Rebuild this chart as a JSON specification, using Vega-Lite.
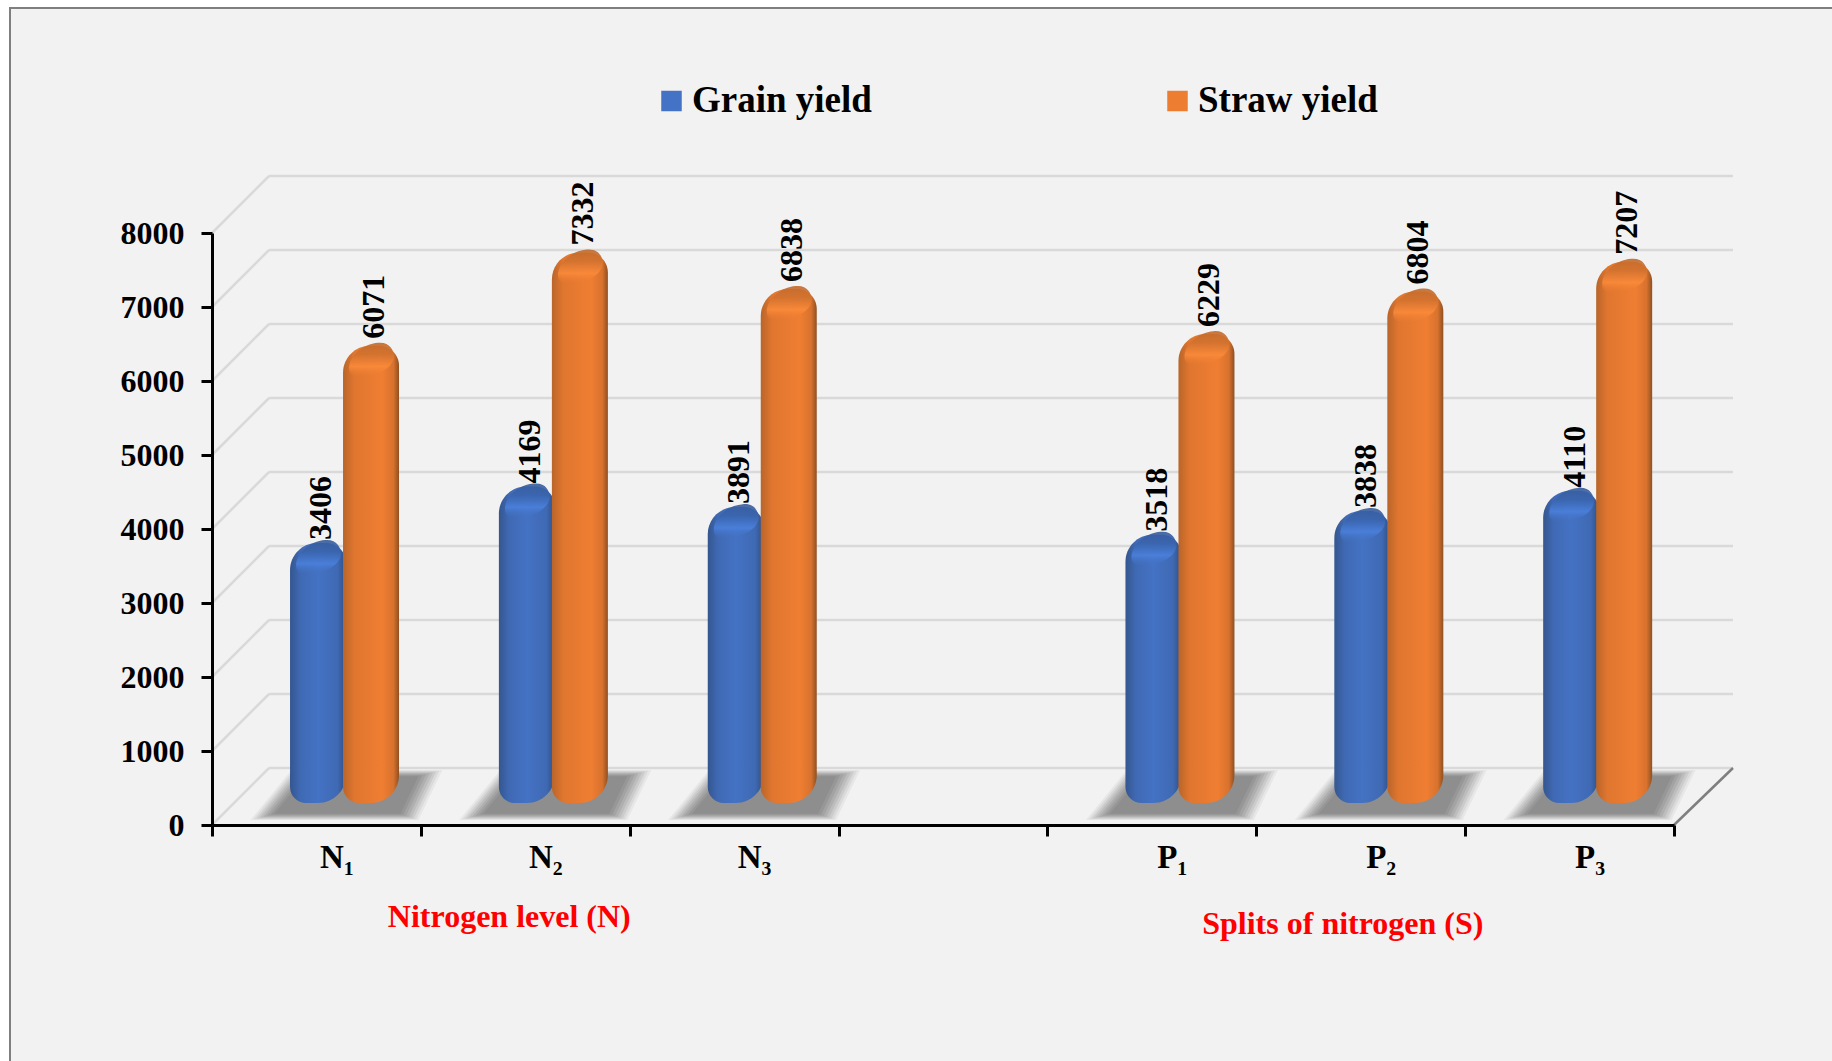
{"$schema":"https://vega.github.io/schema/vega-lite/v6.json","width":1462,"height":592,"autosize":{"type":"none"},"padding":{"left":212,"top":233,"right":158,"bottom":236},"background":"#ffffff","config":{"view":{"stroke":null},"text":{"font":"Liberation Serif","fontWeight":"bold"}},
"datasets":{"yields":[
{"category":"N₁","series":"Grain yield","value":3406},{"category":"N₁","series":"Straw yield","value":6071},
{"category":"N₂","series":"Grain yield","value":4169},{"category":"N₂","series":"Straw yield","value":7332},
{"category":"N₃","series":"Grain yield","value":3891},{"category":"N₃","series":"Straw yield","value":6838},
{"category":"P₁","series":"Grain yield","value":3518},{"category":"P₁","series":"Straw yield","value":6229},
{"category":"P₂","series":"Grain yield","value":3838},{"category":"P₂","series":"Straw yield","value":6804},
{"category":"P₃","series":"Grain yield","value":4110},{"category":"P₃","series":"Straw yield","value":7207}],
"ticks":[{"tick":0},{"tick":1000},{"tick":2000},{"tick":3000},{"tick":4000},{"tick":5000},{"tick":6000},{"tick":7000},{"tick":8000}],
"cats":[{"category":"N₁"},{"category":"N₂"},{"category":"N₃"},{"category":"P₁"},{"category":"P₂"},{"category":"P₃"}]},
"layer":[
{"data":{"values":[{"panel":"frame"}]},"mark":{"type":"bar","width":1866,"fill":"#f2f2f2","stroke":"#7f7f7f","strokeWidth":2},"encoding":{
"x":{"datum":" ","type":"nominal","title":null,"scale":{"type":"band","domain":["N₁","N₂","N₃"," ","P₁","P₂","P₃"],"paddingInner":0,"paddingOuter":0},"axis":{"title":null,"zindex":1,"tickBand":"extent","domainColor":"#000000","domainWidth":3,"tickColor":"#000000","tickWidth":3,"tickSize":11,"labelAngle":0,"labelFont":"Liberation Serif","labelFontWeight":"bold","labelFontSize":33,"labelColor":"#000000","labelOffset":20,"labelPadding":5,"grid":false}},
"y":{"datum":11040,"type":"quantitative","scale":{"domain":[0,8000],"nice":false,"zero":true},"axis":{"title":"kg/ha","zindex":1,"values":[0,1000,2000,3000,4000,5000,6000,7000,8000],"format":"d","grid":false,"domainColor":"#000000","domainWidth":3,"tickColor":"#000000","tickWidth":3,"tickSize":11,"labelFont":"Liberation Serif","labelFontWeight":"bold","labelFontSize":32,"labelColor":"#000000","labelPadding":17,"titleFont":"Liberation Serif","titleFontWeight":"bold","titleFontSize":36,"titleColor":"#ff0000","titleX":-140,"titleY":259,"titleAngle":270}},
"y2":{"datum":-4000}}},
{"data":{"name":"ticks"},"mark":{"type":"rule","color":"#d9d9d9","strokeWidth":2.5,"xOffset":-47.4,"x2Offset":163.4,"yOffset":-57,"y2Offset":-57},"encoding":{"x":{"datum":"N₁","type":"nominal","title":null},"x2":{"datum":"P₃"},"y":{"field":"tick","type":"quantitative","title":null},"y2":{"field":"tick"}}},
{"data":{"name":"ticks"},"mark":{"type":"rule","color":"#d9d9d9","strokeWidth":2.5,"xOffset":-104.4,"x2Offset":-47.4,"y2Offset":-57},"encoding":{"x":{"datum":"N₁","type":"nominal","title":null},"x2":{"datum":"N₁"},"y":{"field":"tick","type":"quantitative","title":null},"y2":{"field":"tick"}}},
{"data":{"values":[{"edge":"floor"}]},"mark":{"type":"rule","color":"#7f7f7f","strokeWidth":2.5,"xOffset":104.4,"x2Offset":163.4,"y2Offset":-57},"encoding":{"x":{"datum":"P₃","type":"nominal","title":null},"x2":{"datum":"P₃"},"y":{"datum":0,"type":"quantitative","title":null},"y2":{"datum":0}}},
{"data":{"name":"cats"},"layer":[
{"mark":{"type":"point","filled":true,"shape":"M -0.96 0.25 L -0.55 -0.25 L 0.96 -0.25 L 0.72 0.25 Z","size":40000,"fill":"#8c8c8c","stroke":null,"opacity":0.1,"xOffset":30,"yOffset":-30}},
{"mark":{"type":"point","filled":true,"shape":"M -0.96 0.25 L -0.55 -0.25 L 0.96 -0.25 L 0.72 0.25 Z","size":37500,"fill":"#8c8c8c","stroke":null,"opacity":0.14,"xOffset":30,"yOffset":-30}},
{"mark":{"type":"point","filled":true,"shape":"M -0.96 0.25 L -0.55 -0.25 L 0.96 -0.25 L 0.72 0.25 Z","size":35000,"fill":"#8c8c8c","stroke":null,"opacity":0.18,"xOffset":30,"yOffset":-30}},
{"mark":{"type":"point","filled":true,"shape":"M -0.96 0.25 L -0.55 -0.25 L 0.96 -0.25 L 0.72 0.25 Z","size":32500,"fill":"#8c8c8c","stroke":null,"opacity":0.22,"xOffset":30,"yOffset":-30}},
{"mark":{"type":"point","filled":true,"shape":"M -0.96 0.25 L -0.55 -0.25 L 0.96 -0.25 L 0.72 0.25 Z","size":30000,"fill":"#8c8c8c","stroke":null,"opacity":0.28,"xOffset":30,"yOffset":-30}},
{"mark":{"type":"point","filled":true,"shape":"M -0.96 0.25 L -0.55 -0.25 L 0.96 -0.25 L 0.72 0.25 Z","size":27500,"fill":"#8c8c8c","stroke":null,"opacity":0.35,"xOffset":30,"yOffset":-30}},
{"mark":{"type":"point","filled":true,"shape":"M -0.96 0.25 L -0.55 -0.25 L 0.96 -0.25 L 0.72 0.25 Z","size":25000,"fill":"#8c8c8c","stroke":null,"opacity":0.5,"xOffset":30,"yOffset":-30}},
{"mark":{"type":"point","filled":true,"shape":"M -0.96 0.25 L -0.55 -0.25 L 0.96 -0.25 L 0.72 0.25 Z","size":22500,"fill":"#8c8c8c","stroke":null,"opacity":0.8,"xOffset":30,"yOffset":-30}}
],"encoding":{"x":{"field":"category","type":"nominal","title":null},"y":{"datum":0,"type":"quantitative","title":null}}},
{"data":{"name":"yields"},"transform":[{"filter":"datum.series === 'Grain yield'"}],"mark":{"type":"bar","width":56,"xOffset":1.6,"yOffset":-30,"y2Offset":-22,"cornerRadiusTopLeft":27,"cornerRadiusTopRight":20,"cornerRadiusBottomLeft":16,"cornerRadiusBottomRight":28,"fill":{"gradient":"linear","x1":0,"y1":0,"x2":1,"y2":0,"stops":[{"offset":0,"color":"#35568f"},{"offset":0.18,"color":"#3f69b3"},{"offset":0.5,"color":"#4472c4"},{"offset":0.85,"color":"#3f69b3"},{"offset":1,"color":"#2f4e82"}]}},"encoding":{"x":{"field":"category","type":"nominal","title":null},"y":{"field":"value","type":"quantitative","title":null},"y2":{"datum":0}}},
{"data":{"name":"yields"},"transform":[{"filter":"datum.series === 'Grain yield'"}],"mark":{"type":"point","filled":true,"shape":"M -1 0.35 C -1 -0.2 -0.4 -0.75 0.3 -0.8 C 0.8 -0.85 1 -0.5 1 -0.2 C 1 0.25 0.4 0.65 -0.3 0.7 C -0.7 0.75 -1 0.7 -1 0.35 Z","size":2000,"stroke":null,"opacity":1,"xOffset":2,"yOffset":-15,"fill":{"gradient":"linear","x1":0,"y1":0,"x2":0,"y2":1,"stops":[{"offset":0,"color":"rgba(55,92,156,0.9)"},{"offset":0.35,"color":"rgba(58,100,173,0.9)"},{"offset":0.7,"color":"rgba(74,128,220,0.9)"},{"offset":1,"color":"rgba(68,114,196,0)"}]}},"encoding":{"x":{"field":"category","type":"nominal","title":null},"y":{"field":"value","type":"quantitative","title":null}}},
{"data":{"name":"yields"},"mark":{"type":"bar","width":0,"opacity":0},"encoding":{"x":{"field":"category","type":"nominal","title":null},"y":{"field":"value","type":"quantitative","title":null},"color":{"field":"series","type":"nominal","scale":{"domain":["Grain yield","Straw yield"],"range":["#4472c4","#ed7d31"]},"legend":{"title":null,"orient":"none","legendX":441,"legendY":-152,"columns":2,"columnPadding":287,"symbolType":"square","symbolSize":420,"symbolOpacity":1,"symbolStrokeWidth":0,"labelFont":"Liberation Serif","labelFontWeight":"bold","labelFontSize":37,"labelColor":"#000000","labelOffset":2,"labelLimit":400,"clipHeight":40}}}},
{"data":{"name":"yields"},"transform":[{"filter":"datum.series === 'Straw yield'"}],"mark":{"type":"bar","width":56,"xOffset":54.6,"yOffset":-30,"y2Offset":-22,"cornerRadiusTopLeft":27,"cornerRadiusTopRight":20,"cornerRadiusBottomLeft":16,"cornerRadiusBottomRight":28,"fill":{"gradient":"linear","x1":0,"y1":0,"x2":1,"y2":0,"stops":[{"offset":0,"color":"#b9652a"},{"offset":0.2,"color":"#e0762f"},{"offset":0.7,"color":"#ef7e32"},{"offset":0.9,"color":"#d8722e"},{"offset":1,"color":"#8f5020"}]}},"encoding":{"x":{"field":"category","type":"nominal","title":null},"y":{"field":"value","type":"quantitative","title":null},"y2":{"datum":0}}},
{"data":{"name":"yields"},"transform":[{"filter":"datum.series === 'Straw yield'"}],"mark":{"type":"point","filled":true,"shape":"M -1 0.35 C -1 -0.2 -0.4 -0.75 0.3 -0.8 C 0.8 -0.85 1 -0.5 1 -0.2 C 1 0.25 0.4 0.65 -0.3 0.7 C -0.7 0.75 -1 0.7 -1 0.35 Z","size":2000,"stroke":null,"opacity":1,"xOffset":55,"yOffset":-15,"fill":{"gradient":"linear","x1":0,"y1":0,"x2":0,"y2":1,"stops":[{"offset":0,"color":"rgba(192,106,44,0.9)"},{"offset":0.35,"color":"rgba(210,114,47,0.9)"},{"offset":0.7,"color":"rgba(251,138,58,0.9)"},{"offset":1,"color":"rgba(237,125,49,0)"}]}},"encoding":{"x":{"field":"category","type":"nominal","title":null},"y":{"field":"value","type":"quantitative","title":null}}},
{"data":{"name":"yields"},"transform":[{"filter":"datum.series === 'Grain yield'"}],"mark":{"type":"text","angle":270,"align":"left","baseline":"middle","fontSize":32,"font":"Liberation Serif","fontWeight":"bold","color":"#000000","xOffset":5,"yOffset":-33},"encoding":{"x":{"field":"category","type":"nominal","title":null},"y":{"field":"value","type":"quantitative","title":null},"text":{"field":"value","type":"quantitative","format":"d"}}},
{"data":{"name":"yields"},"transform":[{"filter":"datum.series === 'Straw yield'"}],"mark":{"type":"text","angle":270,"align":"left","baseline":"middle","fontSize":32,"font":"Liberation Serif","fontWeight":"bold","color":"#000000","xOffset":57.5,"yOffset":-37},"encoding":{"x":{"field":"category","type":"nominal","title":null},"y":{"field":"value","type":"quantitative","title":null},"text":{"field":"value","type":"quantitative","format":"d"}}},
{"data":{"values":[{"category":"N₂","label":"Nitrogen level (N)"}]},"mark":{"type":"text","fontSize":32,"font":"Liberation Serif","fontWeight":"bold","color":"#ff0000","xOffset":-16,"yOffset":92},"encoding":{"x":{"field":"category","type":"nominal","title":null},"y":{"datum":0,"type":"quantitative","title":null},"text":{"field":"label"}}},
{"data":{"values":[{"category":"P₁","label":"Splits of nitrogen (S)"}]},"mark":{"type":"text","fontSize":32,"font":"Liberation Serif","fontWeight":"bold","color":"#ff0000","xOffset":191,"yOffset":99},"encoding":{"x":{"field":"category","type":"nominal","title":null},"y":{"datum":0,"type":"quantitative","title":null},"text":{"field":"label"}}}
]}
